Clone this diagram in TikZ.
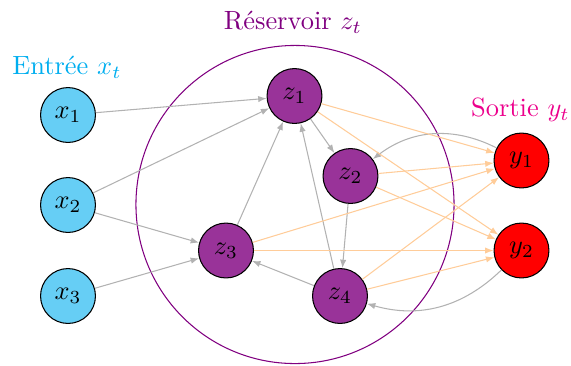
\documentclass[tikz,border=0pt]{standalone}
\usetikzlibrary{arrows.meta}
\definecolor{incol}{RGB}{0,174,239}
\definecolor{infill}{RGB}{102,206,245}
\definecolor{rescol}{RGB}{128,0,128}
\definecolor{resfill}{RGB}{153,51,153}
\definecolor{outcol}{RGB}{236,0,140}
\definecolor{wgray}{RGB}{178,178,178}
\definecolor{worange}{RGB}{255,204,153}
\begin{document}
\begin{tikzpicture}[x=0.3788pt,y=-0.3788pt,
  neuron/.style={circle,draw=black,minimum size=20.8pt,inner sep=0pt},
  inneuron/.style={neuron,fill=infill},
  resneuron/.style={neuron,fill=resfill},
  outneuron/.style={neuron,fill=red},
  garrow/.style={draw=wgray,-{Latex[length=3.2pt,width=2.4pt]}},
  oarrow/.style={draw=worange,-{Latex[length=3.2pt,width=2.4pt]}},
  lbl/.style={inner sep=0pt}]
\useasboundingbox (0,0) rectangle (571,365);
\node[circle,draw=rescol,minimum size=120.5pt,inner sep=0pt] (res) at (295,204.5) {};
\node[inneuron] (x1) at (68,115) {$x_1$};
\node[inneuron] (x2) at (68,205) {$x_2$};
\node[inneuron] (x3) at (68,296) {$x_3$};
\node[resneuron] (z1) at (294.5,96) {$z_1$};
\node[resneuron] (z2) at (350.5,176) {$z_2$};
\node[resneuron] (z3) at (226,250.5) {$z_3$};
\node[resneuron] (z4) at (340,296) {$z_4$};
\node[outneuron] (y1) at (521.5,160.5) {$y_1$};
\node[outneuron] (y2) at (521.5,250.5) {$y_2$};
\node[lbl,text=incol] (lin) at (67,67) {Entrée $x_t$};
\node[lbl,text=rescol] (lres) at (293,22) {Réservoir $z_t$};
\node[lbl,text=outcol] (lout) at (520.5,110) {Sortie $y_t$};
\draw[garrow] (x1) -- (z1);
\draw[garrow] (x2) -- (z1);
\draw[garrow] (x2) -- (z3);
\draw[garrow] (x3) -- (z3);
\draw[garrow] (z3) -- (z1);
\draw[garrow] (z4) -- (z1);
\draw[garrow] (z1) -- (z2);
\draw[garrow] (z2) -- (z4);
\draw[garrow] (z4) -- (z3);
\draw[garrow] (y1) to[bend right=32] (z2);
\draw[garrow] (y2) to[bend left=30] (z4);
\draw[oarrow] (z1) -- (y1);
\draw[oarrow] (z1) -- (y2);
\draw[oarrow] (z2) -- (y1);
\draw[oarrow] (z2) -- (y2);
\draw[oarrow] (z3) -- (y1);
\draw[oarrow] (z3) -- (y2);
\draw[oarrow] (z4) -- (y1);
\draw[oarrow] (z4) -- (y2);
\end{tikzpicture}
\end{document}
